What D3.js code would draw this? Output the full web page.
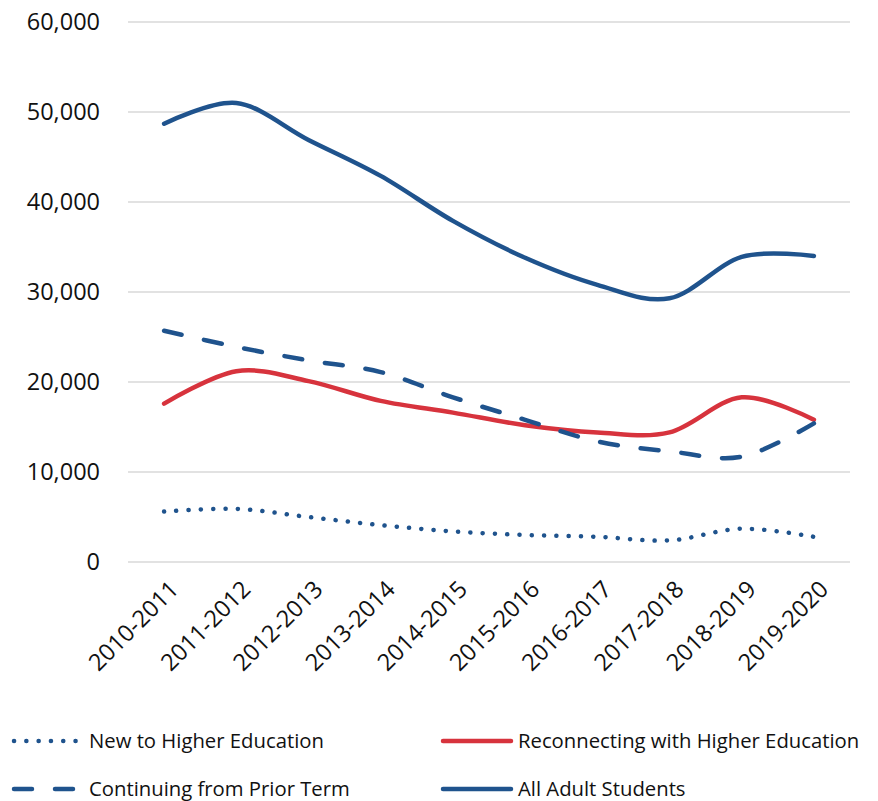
<!DOCTYPE html>
<html>
<head>
<meta charset="utf-8">
<script src="https://cdn.jsdelivr.net/npm/d3@7/dist/d3.min.js"></script>
<style>
  html, body { margin: 0; padding: 0; background: #fff; }
  svg { display: block; font-family: "Open Sans", "Noto Sans", sans-serif; }
</style>
</head>
<body>
<svg id="chart" width="878" height="801"></svg>
<script>
// Academic years on the x axis
const years = ["2010-2011", "2011-2012", "2012-2013", "2013-2014", "2014-2015",
               "2015-2016", "2016-2017", "2017-2018", "2018-2019", "2019-2020"];

// Enrollment counts per group
const newToHigherEd   = [5600, 5900, 5000, 4100, 3400, 3000, 2800, 2400, 3700, 2800];
const reconnecting    = [17600, 21200, 20100, 17900, 16600, 15200, 14400, 14400, 18300, 15800];
const continuingPrior = [25700, 23900, 22400, 21100, 18300, 15800, 13400, 12300, 11700, 15400];
const allAdult        = [48700, 51000, 46900, 42900, 37900, 33800, 30800, 29300, 33900, 34000];

const yTicks = [0, 10000, 20000, 30000, 40000, 50000, 60000];

const BLUE = "#1f538d";
const RED = "#d7333d";

const series = [
  { name: "New to Higher Education", values: newToHigherEd, color: BLUE, dash: "0.1 12.2" },
  { name: "Reconnecting with Higher Education", values: reconnecting, color: RED, dash: null },
  { name: "Continuing from Prior Term", values: continuingPrior, color: BLUE, dash: "18 23" },
  { name: "All Adult Students", values: allAdult, color: BLUE, dash: null }
];

const svg = d3.select("#chart");
const plot = { left: 128, right: 850, top: 22, bottom: 562 };

const x = d3.scaleBand().domain(years).range([plot.left, plot.right]);
const y = d3.scaleLinear().domain([0, 60000]).range([plot.bottom, plot.top]);
const cx = d => x(d) + x.bandwidth() / 2;

// Horizontal gridlines
svg.append("g")
  .selectAll("line")
  .data(yTicks)
  .join("line")
  .attr("x1", plot.left).attr("x2", plot.right)
  .attr("y1", d => y(d)).attr("y2", d => y(d))
  .attr("stroke", "#d9d9d9").attr("stroke-width", 1.5);

// Y axis labels
const yAxis = d3.axisLeft(y).tickValues(yTicks).tickFormat(d3.format(",")).tickSize(0).tickPadding(0);
const yg = svg.append("g").attr("transform", `translate(${plot.left - 28},0)`).call(yAxis);
yg.select(".domain").remove();
yg.selectAll("text").attr("font-size", 23.5).attr("fill", "#111").attr("font-family", "\"Open Sans\", sans-serif");

// X axis labels, rotated
const xAxis = d3.axisBottom(x).tickSize(0).tickPadding(0);
const xg = svg.append("g").attr("transform", `translate(0,${plot.bottom})`).call(xAxis);
xg.select(".domain").remove();
xg.selectAll("text")
  .attr("font-size", 23.5)
  .attr("fill", "#111")
  .attr("font-family", "\"Open Sans\", sans-serif")
  .attr("text-anchor", "end")
  .attr("dy", "0.35em")
  .attr("transform", "translate(10,23) rotate(-45)");

// Smoothed series lines
const line = d3.line()
  .x((d, i) => cx(years[i]))
  .y(d => y(d))
  .curve(d3.curveCatmullRom.alpha(0));

svg.append("g")
  .selectAll("path")
  .data(series)
  .join("path")
  .attr("d", s => line(s.values))
  .attr("fill", "none")
  .attr("stroke", s => s.color)
  .attr("stroke-width", 4.5)
  .attr("stroke-linecap", "round")
  .attr("stroke-linejoin", "round")
  .attr("stroke-dasharray", s => s.dash);

// Legend, two columns by two rows
const legendPos = [
  { x: 12, y: 741 }, { x: 441, y: 741 },
  { x: 12, y: 789 }, { x: 441, y: 789 }
];
const lg = svg.append("g")
  .selectAll("g")
  .data(series)
  .join("g")
  .attr("transform", (s, i) => `translate(${legendPos[i].x},${legendPos[i].y})`);

lg.append("line")
  .attr("x1", 2).attr("x2", (s, i) => i % 2 === 0 ? 66 : 70)
  .attr("y1", 0).attr("y2", 0)
  .attr("stroke", s => s.color)
  .attr("stroke-width", 4.5)
  .attr("stroke-linecap", "round")
  .attr("stroke-dasharray", s => s.dash);

lg.append("text")
  .attr("x", 77)
  .attr("y", 0)
  .attr("dy", "0.35em")
  .attr("font-size", 20.3)
  .attr("fill", "#111")
  .text(s => s.name);
</script>
</body>
</html>
